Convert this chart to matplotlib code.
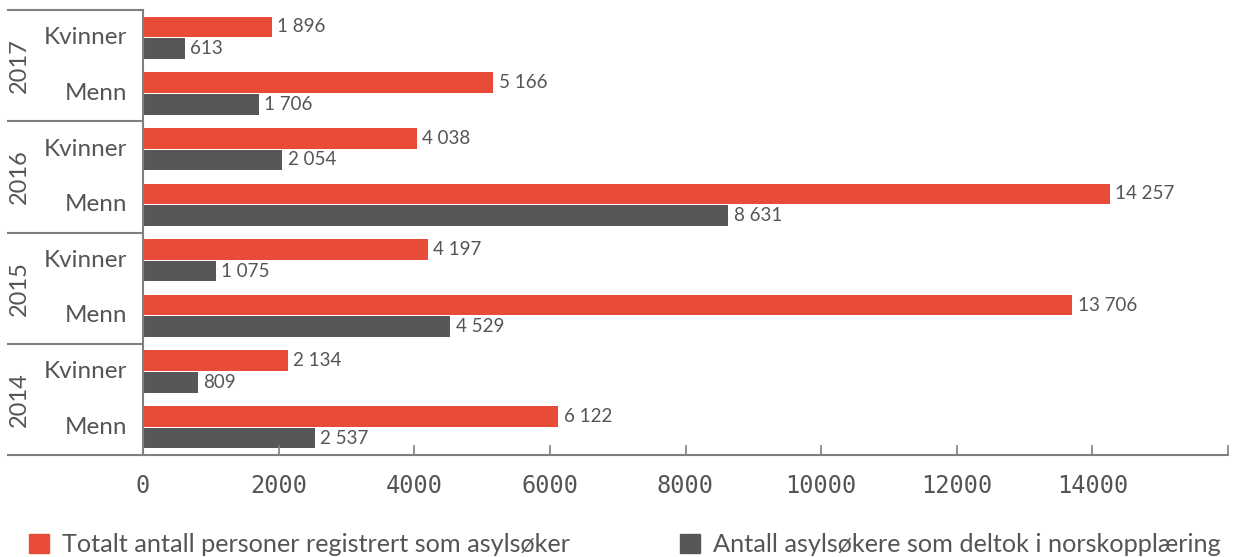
import numpy as np
import matplotlib.pyplot as plt
import matplotlib.transforms as mtransforms
from matplotlib.patches import Patch

# data, top to bottom
years = ["2017", "2016", "2015", "2014"]
genders = ["Kvinner", "Menn"]
totalt = [1896, 5166, 4038, 14257, 4197, 13706, 2134, 6122]
deltok = [613, 1706, 2054, 8631, 1075, 4529, 809, 2537]
xticks = [0, 2000, 4000, 6000, 8000, 10000, 12000, 14000, 16000]
xticklabels = ["0", "2000", "4000", "6000", "8000", "10000", "12000", "14000", ""]
legend_labels = ["Totalt antall personer registrert som asylsøker",
                 "Antall asylsøkere som deltok i norskopplæring"]

RED = "#e84b37"
DARK = "#575757"
TXT = "#555555"
LINE = "#808080"

plt.rcParams['font.family'] = ['Lato', 'DejaVu Sans']

fig = plt.figure(figsize=(12.36, 5.57), dpi=100)
W, H = 1236, 557
ax = fig.add_axes([143 / W, (H - 455) / H, (1228 - 143) / W, (455 - 10) / H])

n = len(totalt)
y = np.arange(n)
h = 0.37
ax.barh(y - 0.195, totalt, height=h, color=RED)
ax.barh(y + 0.195, deltok, height=h, color=DARK)

def fmt(v):
    return f"{v:,}".replace(",", " ")

for yi, v in zip(y - 0.195, totalt):
    ax.text(v + 80, yi, fmt(v), va="center", ha="left", fontsize=13.5, color=TXT)
for yi, v in zip(y + 0.195, deltok):
    ax.text(v + 80, yi, fmt(v), va="center", ha="left", fontsize=13.5, color=TXT)

ax.set_xlim(0, 16000)
ax.set_ylim(n - 0.5, -0.5)
ax.set_yticks([])
ax.set_xticks(xticks)
ax.set_xticklabels(xticklabels, family="DejaVu Sans Mono", fontsize=17, color=TXT)
ax.tick_params(axis="x", direction="in", length=7, width=1.2, color=LINE, pad=14)

for s in ["top", "right"]:
    ax.spines[s].set_visible(False)
for s in ["left", "bottom"]:
    ax.spines[s].set_color(LINE)
    ax.spines[s].set_linewidth(1.5)

# group separators on the left
trans = mtransforms.blended_transform_factory(ax.transAxes, ax.transData)
xl = (8 - 143) / (1228 - 143)
for b in np.arange(-0.5, n + 0.5, 2):
    ax.plot([xl, 0], [b, b], transform=trans, color=LINE, lw=1.5, clip_on=False)

xc = (127 - 143) / (1228 - 143)
xy = (19 - 143) / (1228 - 143)
for i in range(n):
    ax.text(xc, i, genders[i % 2], transform=trans, ha="right", va="center",
            fontsize=17.5, color=TXT)
for j, yr in enumerate(years):
    ax.text(xy, 2 * j + 0.5, yr, transform=trans, ha="center", va="center",
            rotation=90, fontsize=17, color=TXT)

# legend, two entries placed separately
for col, lab, x0 in zip([RED, DARK], legend_labels, [29, 680]):
    fig.legend([Patch(color=col)], [lab], loc="center left",
               bbox_to_anchor=(x0 / W, (H - 545) / H), frameon=False,
               fontsize=18.2, labelcolor=TXT, borderpad=0, borderaxespad=0,
               handlelength=0.8, handleheight=0.8, handletextpad=0.5)

fig.savefig("out.png", dpi=100)
